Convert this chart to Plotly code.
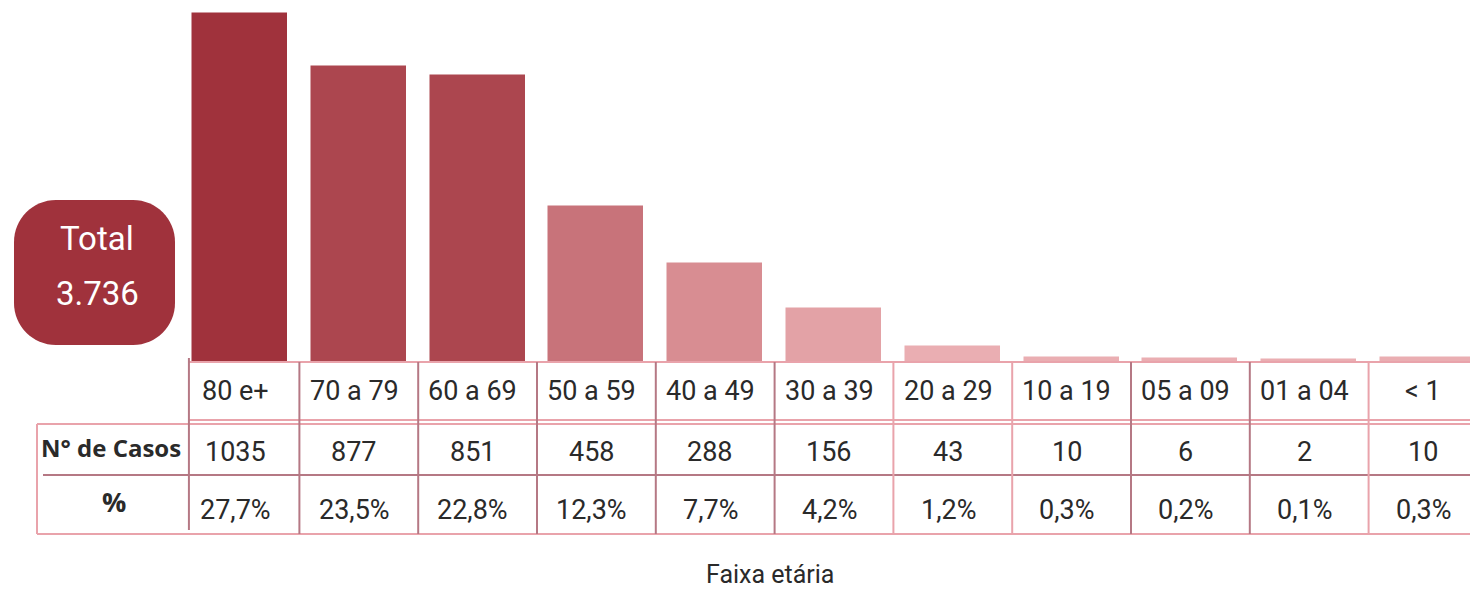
import plotly.graph_objects as go

# ---- data ----
categories = ["80 e+", "70 a 79", "60 a 69", "50 a 59", "40 a 49", "30 a 39",
              "20 a 29", "10 a 19", "05 a 09", "01 a 04", "< 1"]
cases = [1035, 877, 851, 458, 288, 156, 43, 10, 6, 2, 10]
percents = ["27,7%", "23,5%", "22,8%", "12,3%", "7,7%", "4,2%",
            "1,2%", "0,3%", "0,2%", "0,1%", "0,3%"]
total_label = "3.736"
bar_colors = ["#A0323C", "#AC464F", "#AC464F", "#C8737A", "#D88D92", "#E3A2A6",
              "#EAAEB2", "#EAAEB2", "#EAAEB2", "#EAAEB2", "#EAAEB2"]

OFF = 8  # page body margin
W, H = 1478 - OFF, 590 - OFF
FONT = "Roboto"
TXT = "#2a2a2a"


def py(p):
    """screen pixel-from-top -> paper y"""
    return 1 - (p - OFF) / H


def px(p):
    return (p - OFF) / W


xs = list(range(len(categories)))

fig = go.Figure()
fig.add_trace(go.Bar(
    x=xs, y=cases, width=0.79,
    marker=dict(color=bar_colors, line=dict(color=bar_colors, width=1.5)),
    hoverinfo="x+y", showlegend=False,
))

shapes = []
annotations = []

LINE_PINK = "#E9A3AB"
LINE_DARK = "#B57884"

hlines = [
    (362, 189, 1478, LINE_PINK, 2),
    (420, 189, 1478, LINE_PINK, 2),
    (424, 37, 1478, LINE_PINK, 2),
    (475, 43, 1473, LINE_DARK, 2),
    (534, 37, 1478, LINE_PINK, 2),
]
for yy, x0, x1, c, w in hlines:
    shapes.append(dict(type="line", xref="paper", yref="paper",
                       x0=px(x0), x1=px(x1), y0=py(yy), y1=py(yy),
                       line=dict(color=c, width=w), layer="above"))
shapes.append(dict(type="line", xref="paper", yref="paper",
                   x0=px(37), x1=px(37), y0=py(424), y1=py(534),
                   line=dict(color=LINE_PINK, width=2)))

sep_colors = [LINE_DARK] * 6 + [LINE_PINK, LINE_PINK, LINE_DARK, LINE_DARK, LINE_PINK]
for i in range(len(categories)):
    xe = i - 0.43 if i == 0 else i - 0.5
    shapes.append(dict(type="line", xref="x", yref="paper",
                       x0=xe, x1=xe, y0=py(358 if i == 0 else 362),
                       y1=py(534 if i else 530),
                       line=dict(color=sep_colors[i], width=2)))

common = dict(showarrow=False, xanchor="center", yanchor="middle")
for i, cat in enumerate(categories):
    annotations.append(dict(x=i - 0.04, y=py(391), xref="x", yref="paper",
                            text=cat, font=dict(family=FONT, size=27, color=TXT), **common))
    annotations.append(dict(x=i - 0.04, y=py(452), xref="x", yref="paper",
                            text=str(cases[i]), font=dict(family=FONT, size=27, color=TXT), **common))
    annotations.append(dict(x=i - 0.04, y=py(510), xref="x", yref="paper",
                            text=percents[i], font=dict(family=FONT, size=27, color=TXT), **common))

annotations.append(dict(x=px(111), y=py(447), xref="paper", yref="paper",
                        text="<b>N° de Casos</b>",
                        font=dict(family="Open Sans", size=24, color=TXT), **common))
annotations.append(dict(x=px(114), y=py(501), xref="paper", yref="paper",
                        text="<b>%</b>",
                        font=dict(family="Open Sans", size=27, color=TXT), **common))
annotations.append(dict(x=px(770), y=py(574), xref="paper", yref="paper",
                        text="Faixa etária",
                        font=dict(family=FONT, size=25, color=TXT), **common))

# rounded "Total" box
bx0, by0, bx1, by1, r = 14, 200, 175, 345, 42
k = 0.5523 * r


def P(x, y):
    return f"{px(x):.5f},{py(y):.5f}"


path = (
    f"M {P(bx0 + r, by0)} L {P(bx1 - r, by0)} "
    f"C {P(bx1 - r + k, by0)} {P(bx1, by0 + r - k)} {P(bx1, by0 + r)} "
    f"L {P(bx1, by1 - r)} "
    f"C {P(bx1, by1 - r + k)} {P(bx1 - r + k, by1)} {P(bx1 - r, by1)} "
    f"L {P(bx0 + r, by1)} "
    f"C {P(bx0 + r - k, by1)} {P(bx0, by1 - r + k)} {P(bx0, by1 - r)} "
    f"L {P(bx0, by0 + r)} "
    f"C {P(bx0, by0 + r - k)} {P(bx0 + r - k, by0)} {P(bx0 + r, by0)} Z"
)
shapes.append(dict(type="path", xref="paper", yref="paper", path=path,
                   fillcolor="#A0323C", line=dict(width=0)))
annotations.append(dict(x=px(97), y=py(239), xref="paper", yref="paper",
                        text="Total", font=dict(family=FONT, size=33, color="white"), **common))
annotations.append(dict(x=px(97), y=py(293), xref="paper", yref="paper",
                        text=total_label, font=dict(family=FONT, size=33, color="white"), **common))

# axes: 118.8 px per category, first category centred at screen x=240
pitch = 118.8
x0 = -(240 - OFF) / pitch
x1 = x0 + W / pitch
kpx = 347 / 1035  # px per case
y0 = -(590 - 361) / kpx
y1 = y0 + H / kpx

fig.update_layout(
    width=W, height=H,
    margin=dict(l=0, r=0, t=0, b=0),
    paper_bgcolor="white", plot_bgcolor="white",
    xaxis=dict(range=[x0, x1], visible=False, fixedrange=True),
    yaxis=dict(range=[y0, y1], visible=False, fixedrange=True),
    shapes=shapes, annotations=annotations,
    bargap=0, showlegend=False,
)

fig.write_html("out.html")
